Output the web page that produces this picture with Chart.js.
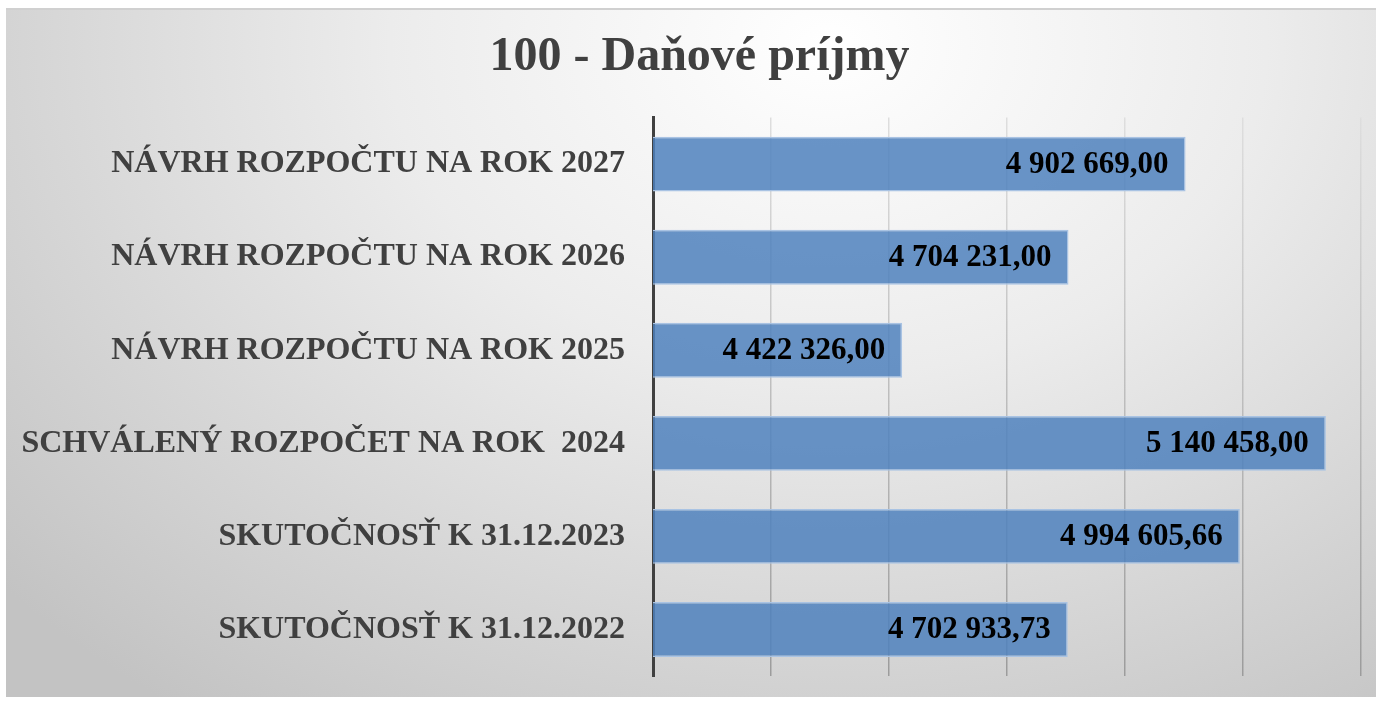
<!DOCTYPE html>
<html>
<head>
<meta charset="utf-8">
<script src="https://cdn.jsdelivr.net/npm/chart.js@4/dist/chart.umd.min.js"></script>
<style>
  html, body { margin: 0; padding: 0; background: #fff; }
  #fondo {
    position: absolute; left: 6px; top: 8px; width: 1370px; height: 689px;
    box-sizing: border-box; border-top: 2px solid #d0d0d0;
    background: radial-gradient(ellipse 80% 120% at 60% 5%, #ffffff 0%, #ececec 40%, #d6d6d6 72%, #c3c3c3 100%);
  }
  #graf { position: absolute; left: 0; top: 0; }
</style>
</head>
<body>
<div id="fondo"></div>
<canvas id="graf" width="1380" height="701"></canvas>
<script>
const titulo = '100 - Daňové príjmy';
const kategorie = [
  'NÁVRH ROZPOČTU NA ROK 2027',
  'NÁVRH ROZPOČTU NA ROK 2026',
  'NÁVRH ROZPOČTU NA ROK 2025',
  'SCHVÁLENÝ ROZPOČET NA ROK  2024',
  'SKUTOČNOSŤ K 31.12.2023',
  'SKUTOČNOSŤ K 31.12.2022'
];
const hodnoty = [4902669.00, 4704231.00, 4422326.00, 5140458.00, 4994605.66, 4702933.73];
const osMin = 4000000;
const osMax = 5200000;
const krok = 200000;

const formatuj = v => {
  const [cele, des] = v.toFixed(2).split('.');
  return cele.replace(/\B(?=(\d{3})+(?!\d))/g, ' ') + ',' + des;
};

// hodnoty vo vnutri stlpcov
const popisky = {
  id: 'popisky',
  afterLayout(chart) {
    // nadpis je v originali trochu posunuty doprava
    if (chart.titleBlock) {
      chart.titleBlock.left += 14;
      chart.titleBlock.right += 14;
    }
  },
  afterDatasetsDraw(chart) {
    const ctx = chart.ctx;
    const meta = chart.getDatasetMeta(0);
    ctx.save();
    ctx.font = 'bold 31px "Liberation Serif"';
    ctx.fillStyle = '#000';
    ctx.textAlign = 'right';
    ctx.textBaseline = 'middle';
    meta.data.forEach((bar, i) => {
      ctx.fillText(formatuj(hodnoty[i]), bar.x - 17, bar.y + 1);
    });
    ctx.restore();
  }
};

const farbaMriezky = c => {
  const area = c.chart.chartArea;
  if (!area) return '#c0c0c0';
  const g = c.chart.ctx.createLinearGradient(0, area.top, 0, area.bottom);
  g.addColorStop(0, '#dedede');
  g.addColorStop(1, '#9c9c9c');
  return g;
};

new Chart(document.getElementById('graf'), {
  type: 'bar',
  data: {
    labels: kategorie,
    datasets: [{
      data: hodnoty,
      backgroundColor: 'rgba(79, 129, 189, 0.85)',
      borderColor: '#a9c3e3',
      borderWidth: 1.5,
      barPercentage: 0.59,
      categoryPercentage: 1
    }]
  },
  options: {
    indexAxis: 'y',
    responsive: false,
    animation: false,
    layout: { padding: { top: 8, left: 10, right: 19, bottom: 25 } },
    plugins: {
      legend: { display: false },
      tooltip: { enabled: false },
      title: {
        display: true,
        text: titulo,
        color: '#404040',
        font: { family: 'Liberation Serif', size: 48, weight: 'bold' },
        padding: { top: 21, bottom: 31 }
      }
    },
    scales: {
      x: {
        min: osMin,
        max: osMax,
        ticks: { display: false, stepSize: krok },
        grid: { color: farbaMriezky, lineWidth: 1.5, drawTicks: false },
        border: { display: false }
      },
      y: {
        afterFit: s => {
          s.width = 643;
          s.paddingTop = 0;
          s.paddingBottom = 0;
        },
        ticks: {
          color: '#404040',
          padding: 28,
          font: { family: 'Liberation Serif', size: 32, weight: 'bold' }
        },
        grid: { display: false, drawTicks: false },
        border: { display: true, color: '#404040', width: 3 }
      }
    }
  },
  plugins: [popisky]
});
</script>
</body>
</html>
